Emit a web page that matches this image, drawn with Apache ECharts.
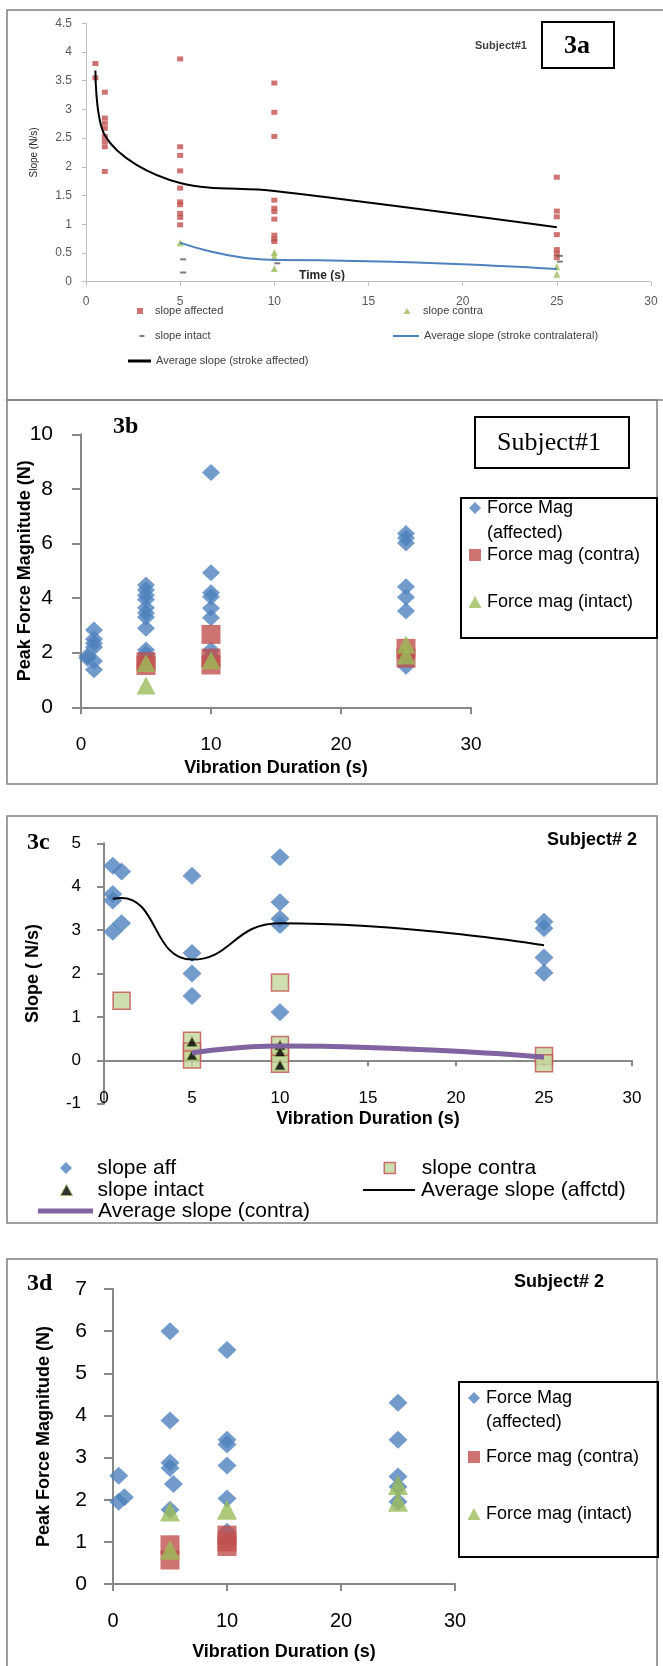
<!DOCTYPE html>
<html><head><meta charset="utf-8">
<script src="https://cdn.jsdelivr.net/npm/echarts@6/dist/echarts.min.js"></script>
<style>html,body{margin:0;padding:0;background:#fff}#c{width:663px;height:1666px}</style>
</head><body><div id="c"></div>
<script>
// ---------- Panel 3a (Subject#1, slope) ----------
const a_slopeAffected = [[0.5,3.80],[0.5,3.55],[1,3.30],[1,2.85],[1,2.76],[1,2.67],[1,2.53],[1,2.44],[1,2.35],[1,1.92],
  [5,3.88],[5,2.35],[5,2.20],[5,1.93],[5,1.63],[5,1.39],[5,1.34],[5,1.19],[5,1.12],[5,0.99],
  [10,3.46],[10,2.95],[10,2.53],[10,1.42],[10,1.28],[10,1.22],[10,1.09],[10,0.81],[10,0.74],[10,0.70],
  [25,1.82],[25,1.23],[25,1.13],[25,0.82],[25,0.56],[25,0.49],[25,0.42]];
const a_slopeContra = [[5,0.68],[10,0.51],[10,0.44],[10,0.23],[25,0.26],[25,0.13]];
const a_slopeIntact = [[5,0.39],[5,0.16],[10,0.32],[25,0.45],[25,0.35]];
const a_avgAffected = [[0.5,3.68],[1,2.55],[5,1.72],[10,1.58],[25,0.95]];
const a_avgContra = [[5,0.68],[10,0.38],[25,0.22]];

// ---------- Panel 3b (Subject#1, force) ----------
const b_forceAff = [[0.5,1.80],[0.5,1.88],[1,2.83],[1,2.50],[1,2.35],[1,2.20],[1,1.70],[1,1.38],
  [5,4.48],[5,4.30],[5,4.10],[5,3.95],[5,3.65],[5,3.45],[5,3.30],[5,2.90],[5,2.10],[5,1.95],
  [10,8.60],[10,4.93],[10,4.20],[10,4.05],[10,3.63],[10,3.28],[10,2.10],[10,1.85],
  [25,6.37],[25,6.20],[25,6.02],[25,4.42],[25,4.03],[25,3.53],[25,1.80],[25,1.50]];
const b_forceContra = [[5,1.67],[5,1.53],[10,2.67],[10,1.80],[10,1.55],[25,2.16],[25,1.80]];
const b_forceIntact = [[5,1.62],[5,0.80],[10,1.72],[25,2.30],[25,1.90]];

// ---------- Panel 3c (Subject# 2, slope) ----------
const c_slopeAff = [[0.5,4.48],[0.5,3.83],[0.5,3.68],[0.5,2.96],[1,4.35],[1,3.16],
  [5,4.25],[5,2.47],[5,2.00],[5,1.48],[10,4.68],[10,3.64],[10,3.26],[10,3.12],[10,1.11],
  [25,3.19],[25,3.04],[25,2.37],[25,2.02]];
const c_slopeContra = [[1,1.37],[5,0.45],[5,0.20],[5,0.02],[10,1.79],[10,0.35],[10,0.15],[10,-0.08],[25,0.10],[25,-0.07]];
const c_slopeIntact = [[5,0.43],[5,0.12],[10,0.35],[10,0.20],[10,-0.11]];
const c_avgAff = [[0.5,3.72],[1,3.74],[5,2.32],[10,3.16],[25,2.65]];
const c_avgContra = [[5,0.17],[10,0.33],[25,0.07]];

// ---------- Panel 3d (Subject# 2, force) ----------
const d_forceAff = [[0.5,2.57],[0.5,1.95],[1,2.06],[5,6.00],[5,3.88],[5,2.88],[5,2.75],[5.3,2.37],[5,1.76],
  [10,5.55],[10,3.42],[10,3.31],[10,2.81],[10,2.03],[10,1.24],
  [25,4.30],[25,3.42],[25,2.55],[25,2.31],[25,1.95]];
const d_forceContra = [[5,0.93],[5,0.57],[10,1.16],[10,1.00],[10,0.89]];
const d_forceIntact = [[5,1.72],[5,0.81],[10,1.76],[25,2.35],[25,1.95]];

const SANS = '"Liberation Sans", Arial, sans-serif';
const SERIF = '"Liberation Serif", "Times New Roman", serif';
const BLUE = '#4f81bd', RED = '#c0504d', GREEN = '#9bbb59', PURPLE = '#8064a2', LGREEN = '#c3d69b';
const AX = '#888888';

function xAx(g, interval, o) {
  return Object.assign({
    gridIndex: g, type: 'value', min: 0, max: 30, interval: interval,
    axisLine: {show: true, onZero: true, lineStyle: {color: AX, width: 2}},
    axisTick: {show: true, length: 7, lineStyle: {color: AX, width: 2}},
    splitLine: {show: false},
    nameLocation: 'middle', nameMoveOverlap: false,
    nameTextStyle: {fontSize: 18, fontWeight: 'bold', color: '#000', fontFamily: SANS}
  }, o);
}
function yAx(g, min, max, interval, o) {
  return Object.assign({
    gridIndex: g, type: 'value', min: min, max: max, interval: interval,
    axisLine: {show: true, lineStyle: {color: AX, width: 2}},
    axisTick: {show: true, length: 9, lineStyle: {color: AX, width: 2}},
    splitLine: {show: false},
    nameLocation: 'middle', nameMoveOverlap: false,
    nameTextStyle: {fontSize: 18, fontWeight: 'bold', color: '#000', fontFamily: SANS}
  }, o);
}
function L(name, cx, cy, w, h, textLeft, fs, color, icon, itemStyle, fmt) {
  const lh = Math.max(h, fs + 2);
  const left = cx - w / 2;
  const o = {
    show: true, selectedMode: false, orient: 'horizontal', padding: 0, itemGap: 0,
    left: left, top: cy - lh / 2, itemWidth: w, itemHeight: h,
    data: [{name: name, icon: icon}],
    itemStyle: Object.assign({borderWidth: 0}, itemStyle),
    textStyle: {fontSize: fs, fontFamily: SANS, color: color, lineHeight: lh,
      padding: [0, 0, 0, Math.max(0, textLeft - (left + w + 5))]}
  };
  if (fmt) o.formatter = fmt;
  return o;
}
const stripAff = n => n.replace(' (affected)', '');

function txt(x, y, text, font, fill, align) {
  return {type: 'text', x: x, y: y, silent: true,
    style: {text: text, font: font, fill: fill, textAlign: align || 'left', textVerticalAlign: 'middle'}};
}
function box(x, y, w, h, stroke, lw) {
  return {type: 'rect', silent: true, shape: {x: x, y: y, width: w, height: h},
    style: {fill: 'none', stroke: stroke, lineWidth: lw}};
}

const option = {
  animation: false,
  backgroundColor: '#fff',
  textStyle: {fontFamily: SANS},
  grid: [
    {left: 86, top: 23.3, width: 565, height: 258.4},
    {left: 81, top: 434.3, width: 390, height: 273},
    {left: 104, top: 843.3, width: 528, height: 260.4},
    {left: 113, top: 1289, width: 342, height: 295}
  ],
  xAxis: [
    xAx(0, 5, {axisLine: {show: true, lineStyle: {color: '#bfbfbf', width: 1}},
      axisTick: {show: true, length: 4, lineStyle: {color: '#bfbfbf', width: 1}},
      axisLabel: {color: '#595959', fontSize: 12, fontFamily: SANS, margin: 14}}),
    xAx(1, 10, {axisLabel: {color: '#000', fontSize: 19, fontFamily: SANS, margin: 28},
      name: 'Vibration Duration (s)', nameGap: 52}),
    xAx(2, 5, {axisTick: {show: true, length: 6, lineStyle: {color: AX, width: 2}},
      axisLabel: {color: '#000', fontSize: 17, fontFamily: SANS, margin: -14},
      name: 'Vibration Duration (s)', nameGap: 6}),
    xAx(3, 10, {axisLabel: {color: '#000', fontSize: 20, fontFamily: SANS, margin: 27},
      name: 'Vibration Duration (s)', nameGap: 59})
  ],
  yAxis: [
    yAx(0, 0, 4.5, 0.5, {axisLine: {show: true, lineStyle: {color: '#bfbfbf', width: 1}},
      axisTick: {show: true, length: 4, lineStyle: {color: '#bfbfbf', width: 1}},
      axisLabel: {color: '#595959', fontSize: 12, fontFamily: SANS, margin: 14},
      name: 'Slope (N/s)', nameGap: 47, nameTextStyle: {fontSize: 10, color: '#262626', fontFamily: SANS}}),
    yAx(1, 0, 10, 2, {axisLabel: {color: '#000', fontSize: 21, fontFamily: SANS, margin: 28},
      name: 'Peak Force Magnitude (N)', nameGap: 47}),
    yAx(2, -1, 5, 1, {axisTick: {show: true, length: 7, lineStyle: {color: AX, width: 2}},
      axisLabel: {color: '#000', fontSize: 17, fontFamily: SANS, margin: 23},
      name: 'Slope ( N/s)', nameGap: 62}),
    yAx(3, 0, 7, 1, {axisLabel: {color: '#000', fontSize: 21, fontFamily: SANS, margin: 26},
      name: 'Peak Force Magnitude (N)', nameGap: 60})
  ],
  legend: [
    // 3a
    L('slope affected', 140, 311, 6, 6, 155, 11, '#404040', 'rect', {color: RED}),
    L('slope contra', 407, 311, 7, 6, 423, 11, '#404040', 'triangle', {color: GREEN}),
    L('slope intact', 142, 336, 5, 2, 155, 11, '#404040', 'rect', {color: '#595959'}),
    L('Average slope (stroke contralateral)', 406, 336, 26, 2, 423, 11, '#404040', 'rect', {color: BLUE}),
    L('Average slope (stroke affected)', 139.5, 361, 23, 3, 155, 11, '#404040', 'rect', {color: '#000'}),
    // 3b
    L('Force Mag (affected)', 475, 508, 12, 12, 487, 18, '#000', 'diamond', {color: BLUE}, stripAff),
    L('Force mag (contra)', 475, 555, 12, 12, 487, 18, '#000', 'rect', {color: RED}),
    L('Force mag (intact)', 475, 602, 13, 12, 487, 18, '#000', 'triangle', {color: GREEN}),
    // 3c
    L('slope aff', 66, 1168, 12, 12, 97, 21, '#000', 'diamond', {color: BLUE}),
    L('slope contra', 389, 1168, 11, 11, 421, 21, '#000', 'rect', {color: LGREEN, borderColor: RED, borderWidth: 1.5}),
    L('slope intact', 66, 1190, 12, 11, 97, 21, '#000', 'triangle', {color: '#000', borderColor: GREEN, borderWidth: 1}),
    L('Average slope (affctd)', 389, 1190, 52, 2, 421, 21, '#000', 'rect', {color: '#000'}),
    L('Average slope (contra)', 65.5, 1211, 55, 5, 97, 21, '#000', 'rect', {color: PURPLE}),
    // 3d
    L('Force Mag (affected)', 474, 1398, 12, 12, 486, 18, '#000', 'diamond', {color: BLUE}, stripAff),
    L('Force mag (contra)', 474, 1457, 12, 12, 486, 18, '#000', 'rect', {color: RED}),
    L('Force mag (intact)', 474, 1514, 13, 12, 486, 18, '#000', 'triangle', {color: GREEN})
  ],
  graphic: {elements: [
    // frames
    box(7, 10, 720, 390, '#808080', 1.5),
    box(7, 400, 650, 384, '#808080', 1.5),
    box(7, 816, 650, 407, '#808080', 1.5),
    box(7, 1259, 650, 500, '#808080', 1.5),
    // 3a
    box(542, 22, 72, 46, '#000', 2),
    txt(577, 46, '3a', 'bold 26px ' + SERIF, '#000', 'center'),
    txt(475, 46, 'Subject#1', 'bold 11px ' + SANS, '#404040'),
    txt(322, 276, 'Time (s)', 'bold 12px ' + SANS, '#262626', 'center'),
    // 3b
    txt(113, 427, '3b', 'bold 24px ' + SERIF, '#000'),
    box(475, 417, 154, 51, '#000', 2),
    txt(549, 443, 'Subject#1', '26px ' + SERIF, '#000', 'center'),
    box(461, 498, 196, 140, '#000', 2),
    txt(487, 533, '(affected)', '18px ' + SANS, '#000'),
    // 3c
    txt(27, 843, '3c', 'bold 24px ' + SERIF, '#000'),
    txt(547, 840, 'Subject# 2', 'bold 18px ' + SANS, '#000'),
    // 3d
    txt(27, 1284, '3d', 'bold 24px ' + SERIF, '#000'),
    txt(514, 1282, 'Subject# 2', 'bold 18px ' + SANS, '#000'),
    box(459, 1382, 199, 175, '#000', 2),
    txt(486, 1422, '(affected)', '18px ' + SANS, '#000')
  ]},
  series: [
    // 3a
    {name: 'slope affected', type: 'scatter', xAxisIndex: 0, yAxisIndex: 0, data: a_slopeAffected,
      symbol: 'rect', symbolSize: [6, 5], itemStyle: {color: RED}, silent: true},
    {name: 'slope contra', type: 'scatter', xAxisIndex: 0, yAxisIndex: 0, data: a_slopeContra,
      symbol: 'triangle', symbolSize: [7, 7], itemStyle: {color: GREEN}, silent: true},
    {name: 'slope intact', type: 'scatter', xAxisIndex: 0, yAxisIndex: 0, data: a_slopeIntact,
      symbol: 'rect', symbolSize: [6, 2], symbolOffset: [3, 0], itemStyle: {color: '#595959'}, silent: true},
    {name: 'Average slope (stroke contralateral)', type: 'line', xAxisIndex: 0, yAxisIndex: 0, data: a_avgContra,
      smooth: 0.5, smoothMonotone: 'x', symbol: 'none', lineStyle: {color: BLUE, width: 2}, itemStyle: {color: BLUE}, silent: true},
    {name: 'Average slope (stroke affected)', type: 'line', xAxisIndex: 0, yAxisIndex: 0, data: a_avgAffected,
      smooth: 0.35, symbol: 'none', lineStyle: {color: '#000', width: 2}, itemStyle: {color: '#000'}, silent: true},
    // 3b
    {name: 'Force Mag (affected)', type: 'scatter', xAxisIndex: 1, yAxisIndex: 1, data: b_forceAff,
      symbol: 'diamond', symbolSize: [18, 17], itemStyle: {color: BLUE}, silent: true},
    {name: 'Force mag (contra)', type: 'scatter', xAxisIndex: 1, yAxisIndex: 1, data: b_forceContra,
      symbol: 'rect', symbolSize: 19, itemStyle: {color: RED}, silent: true},
    {name: 'Force mag (intact)', type: 'scatter', xAxisIndex: 1, yAxisIndex: 1, data: b_forceIntact,
      symbol: 'triangle', symbolSize: [19, 18], itemStyle: {color: GREEN}, silent: true},
    // 3c
    {name: 'slope aff', type: 'scatter', xAxisIndex: 2, yAxisIndex: 2, data: c_slopeAff,
      symbol: 'diamond', symbolSize: [19, 18], itemStyle: {color: BLUE}, silent: true},
    {name: 'slope contra', type: 'scatter', xAxisIndex: 2, yAxisIndex: 2, data: c_slopeContra,
      symbol: 'rect', symbolSize: 17, itemStyle: {color: LGREEN, borderColor: RED, borderWidth: 1.5}, silent: true},
    {name: 'Average slope (affctd)', type: 'line', xAxisIndex: 2, yAxisIndex: 2, data: c_avgAff,
      smooth: 0.5, symbol: 'none', lineStyle: {color: '#000', width: 2}, itemStyle: {color: '#000'}, silent: true},
    {name: 'Average slope (contra)', type: 'line', xAxisIndex: 2, yAxisIndex: 2, data: c_avgContra,
      smooth: 0.5, symbol: 'none', lineStyle: {color: PURPLE, width: 5}, itemStyle: {color: PURPLE}, silent: true},
    {name: 'slope intact', type: 'scatter', xAxisIndex: 2, yAxisIndex: 2, data: c_slopeIntact,
      symbol: 'triangle', symbolSize: [11, 10], itemStyle: {color: '#000', borderColor: GREEN, borderWidth: 1}, silent: true},
    // 3d
    {name: 'Force Mag (affected)', type: 'scatter', xAxisIndex: 3, yAxisIndex: 3, data: d_forceAff,
      symbol: 'diamond', symbolSize: [19, 18], itemStyle: {color: BLUE}, silent: true},
    {name: 'Force mag (contra)', type: 'scatter', xAxisIndex: 3, yAxisIndex: 3, data: d_forceContra,
      symbol: 'rect', symbolSize: 19, itemStyle: {color: RED}, silent: true},
    {name: 'Force mag (intact)', type: 'scatter', xAxisIndex: 3, yAxisIndex: 3, data: d_forceIntact,
      symbol: 'triangle', symbolSize: [20, 20], itemStyle: {color: GREEN}, silent: true}
  ]
};
const chart = echarts.init(document.getElementById('c'), null, {renderer: 'canvas', width: 663, height: 1666});
chart.setOption(option);
</script>
</body></html>
